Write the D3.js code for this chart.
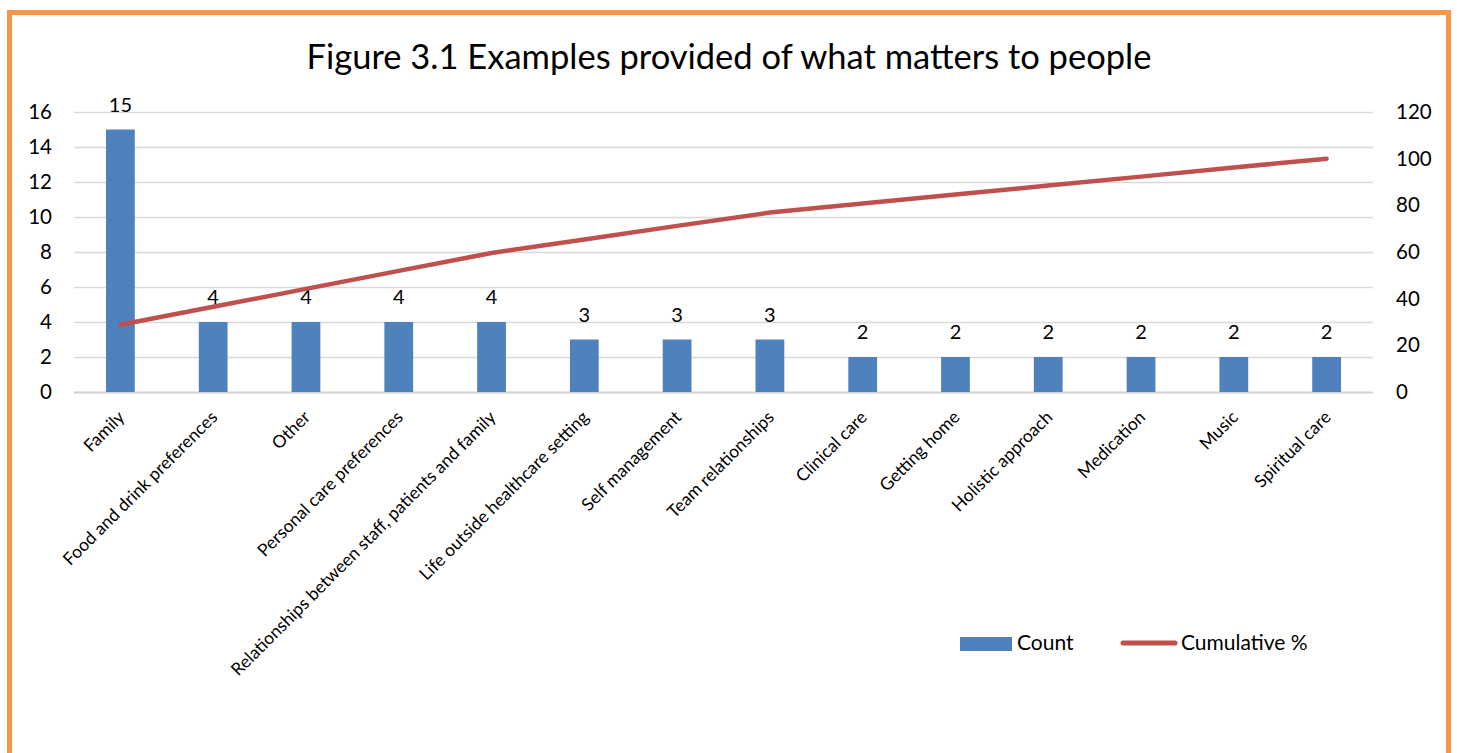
<!DOCTYPE html>
<html lang="en">
<head>
  <meta charset="UTF-8" />
  <title>Figure 3.1 Examples provided of what matters to people</title>
  <script src="https://d3js.org/d3.v7.min.js"></script>
  <style>
    body { margin: 0; background: #fff; }
    text { font-family: Lato, "Liberation Sans", sans-serif; fill: #000; }
  </style>
</head>
<body>
<script type="text/javascript">

// data
var categories = ["Family", "Food and drink preferences", "Other", "Personal care preferences",
  "Relationships between staff, patients and family", "Life outside healthcare setting",
  "Self management", "Team relationships", "Clinical care", "Getting home",
  "Holistic approach", "Medication", "Music", "Spiritual care"];
var counts = [15, 4, 4, 4, 4, 3, 3, 3, 2, 2, 2, 2, 2, 2];
var cumulative = [28.8, 36.5, 44.2, 51.9, 59.6, 65.4, 71.2, 76.9, 80.8, 84.6, 88.5, 92.3, 96.2, 100];
var leftTicks = [0, 2, 4, 6, 8, 10, 12, 14, 16];
var rightTicks = [0, 20, 40, 60, 80, 100, 120];

var W = 1457, H = 753;
var margin = {top: 112, right: 84, bottom: 361, left: 74};

var svg = d3.select("body").append("svg")
  .attr("width", W)
  .attr("height", H);

// orange frame
svg.append("rect")
  .attr("x", 9.5).attr("y", 12.5)
  .attr("width", 1439).attr("height", 780)
  .attr("fill", "none")
  .attr("stroke", "#f79646")
  .attr("stroke-width", 5);

svg.append("text")
  .attr("x", 729).attr("y", 69)
  .attr("text-anchor", "middle")
  .attr("font-size", "34.5px")
  .text("Figure 3.1 Examples provided of what matters to people");

var x = d3.scaleBand()
  .domain(categories)
  .range([margin.left, W - margin.right])
  .paddingInner(0.69)
  .paddingOuter(0.345);

var y = d3.scaleLinear().domain([0, 16]).range([H - margin.bottom, margin.top]);
var y2 = d3.scaleLinear().domain([0, 120]).range([H - margin.bottom, margin.top]);

// gridlines
svg.append("g")
  .selectAll("line")
  .data(leftTicks)
  .enter().append("line")
  .attr("x1", margin.left).attr("x2", W - margin.right)
  .attr("y1", function(d) { return y(d) + 0.5; })
  .attr("y2", function(d) { return y(d) + 0.5; })
  .attr("stroke", function(d) { return d === 0 ? "#d0d0d0" : "#d9d9d9"; })
  .attr("stroke-width", function(d) { return d === 0 ? 2 : 1.5; });

// left axis
var leftAxis = svg.append("g")
  .attr("transform", "translate(" + margin.left + ",0)")
  .call(d3.axisLeft(y).tickValues(leftTicks).tickSize(0).tickPadding(22));
leftAxis.select(".domain").remove();
leftAxis.selectAll("text").attr("font-size", "20.5px").attr("font-family", "Lato, sans-serif");

// right axis
var rightAxis = svg.append("g")
  .attr("transform", "translate(" + (W - margin.right) + ",0)")
  .call(d3.axisRight(y2).tickValues(rightTicks).tickSize(0).tickPadding(23));
rightAxis.select(".domain").remove();
rightAxis.selectAll("text").attr("font-size", "20.5px").attr("font-family", "Lato, sans-serif");

// bars
svg.append("g")
  .selectAll("rect")
  .data(counts)
  .enter().append("rect")
  .attr("x", function(d, i) { return x(categories[i]); })
  .attr("y", function(d) { return y(d); })
  .attr("width", x.bandwidth())
  .attr("height", function(d) { return y(0) - y(d); })
  .attr("fill", "#4f81bd");

// bar labels
svg.append("g")
  .selectAll("text")
  .data(counts)
  .enter().append("text")
  .attr("x", function(d, i) { return x(categories[i]) + x.bandwidth() / 2; })
  .attr("y", function(d) { return y(d) - 18; })
  .attr("text-anchor", "middle")
  .attr("font-size", "20px")
  .text(function(d) { return d; });

// cumulative line
var line = d3.line()
  .x(function(d, i) { return x(categories[i]) + x.bandwidth() / 2; })
  .y(function(d) { return y2(d); });

svg.append("path")
  .datum(cumulative)
  .attr("d", line)
  .attr("fill", "none")
  .attr("stroke", "#c0504d")
  .attr("stroke-width", 4.5)
  .attr("stroke-linecap", "round")
  .attr("stroke-linejoin", "round");

// category labels, rotated
svg.append("g")
  .selectAll("text")
  .data(categories)
  .enter().append("text")
  .attr("transform", function(d) {
    return "translate(" + (x(d) + x.bandwidth() / 2 + 1) + "," + (y(0) + 22) + ") rotate(-45)";
  })
  .attr("text-anchor", "end")
  .attr("dy", "0.35em")
  .attr("font-size", "17.5px")
  .text(function(d) { return d; });

// legend
var legend = svg.append("g");
legend.append("rect")
  .attr("x", 960).attr("y", 637)
  .attr("width", 52).attr("height", 14)
  .attr("fill", "#4f81bd");
legend.append("text")
  .attr("x", 1017).attr("y", 650)
  .attr("font-size", "21px")
  .text("Count");
legend.append("line")
  .attr("x1", 1123).attr("x2", 1175)
  .attr("y1", 643).attr("y2", 643)
  .attr("stroke", "#c0504d")
  .attr("stroke-width", 5)
  .attr("stroke-linecap", "round");
legend.append("text")
  .attr("x", 1181).attr("y", 650)
  .attr("font-size", "21px")
  .text("Cumulative %");

</script>
</body>
</html>
